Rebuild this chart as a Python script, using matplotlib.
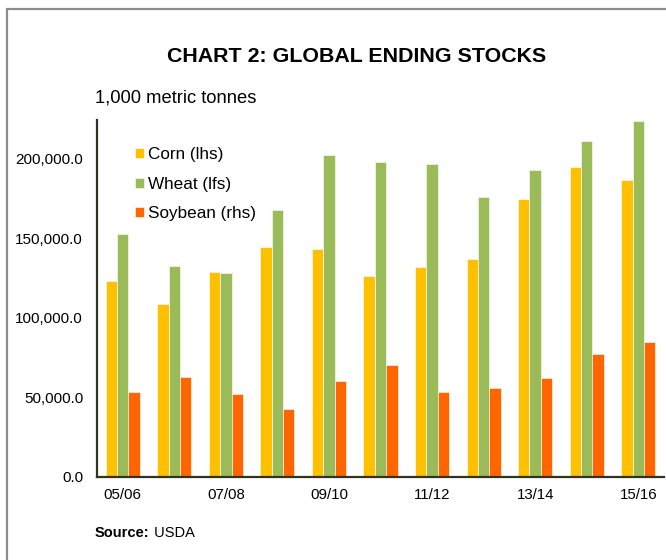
import numpy as np
import matplotlib
matplotlib.use('Agg')
import matplotlib.pyplot as plt
from matplotlib.patches import Rectangle

plt.rcParams['font.family'] = ['Liberation Sans', 'DejaVu Sans']

seasons = ['05/06', '06/07', '07/08', '08/09', '09/10', '10/11',
           '11/12', '12/13', '13/14', '14/15', '15/16']
corn = [123000, 109000, 129200, 144800, 143100, 126600,
        132300, 137300, 175100, 195200, 186800]
wheat = [152800, 132900, 128100, 168200, 202300, 198100,
         196900, 176200, 192900, 211300, 224000]
soybean = [53500, 62700, 52000, 42600, 60200, 70200,
           53500, 55800, 62500, 77500, 84600]
yticks = [0, 50000, 100000, 150000, 200000]

W, H = 666, 560
fig = plt.figure(figsize=(W / 100, H / 100), dpi=100)

# grey frame around the chart (only left/top edges visible in the crop)
fig.patches.append(Rectangle((7 / W, -0.1), 1.2, 1 - 9 / H + 0.1, transform=fig.transFigure,
                             fill=False, edgecolor='#8c8c8c', linewidth=1.6))

ax = fig.add_axes([97 / W, 1 - 477 / H, (664 - 97) / W, (477 - 120) / H])

x = np.arange(len(seasons))
bw = 0.22
ax.bar(x - bw, corn, bw, color='#FFC000', edgecolor='#fff6e0', linewidth=0.6, label='Corn (lhs)')
ax.bar(x, wheat, bw, color='#9BBB59', edgecolor='#eef5e0', linewidth=0.6, label='Wheat (lfs)')
ax.bar(x + bw, soybean, bw, color='#FF6600', edgecolor='#ffe8d8', linewidth=0.6, label='Soybean (rhs)')

ax.set_xlim(-0.5, len(seasons) - 0.5)
ax.set_ylim(0, 224500)
ax.set_yticks(yticks)
ax.set_yticklabels(['{:,.1f}'.format(v) for v in yticks], fontsize=11)
ax.set_xticks(x[::2])
ax.set_xticklabels(seasons[::2], fontsize=10.8)
ax.tick_params(length=0, pad=8)
ax.tick_params(axis='y', pad=10)

for s in ['top', 'right']:
    ax.spines[s].set_visible(False)
for s in ['left', 'bottom']:
    ax.spines[s].set_color('#2f3320')
    ax.spines[s].set_linewidth(1.6)

ax.legend(loc='upper left', bbox_to_anchor=(135 / W, 1 - 147 / H), bbox_transform=fig.transFigure,
          frameon=False, fontsize=12.3, handlelength=0.55, handleheight=0.55,
          handletextpad=0.2, labelspacing=0.86, borderpad=0, borderaxespad=0)

fig.text(357 / W, 1 - 57 / H, 'CHART 2: GLOBAL ENDING STOCKS', ha='center', va='center',
         fontsize=15.4, fontweight='bold')
fig.text(95 / W, 1 - 98 / H, '1,000 metric tonnes', ha='left', va='center', fontsize=13.2)
src = fig.text(95 / W, 1 - 533 / H, 'Source:', ha='left', va='center', fontsize=10.5, fontweight='bold')
ax.annotate(' USDA', xy=(1, 0.5), xycoords=src, ha='left', va='center', fontsize=10.5,
            annotation_clip=False)

fig.savefig('out.png', dpi=100)
